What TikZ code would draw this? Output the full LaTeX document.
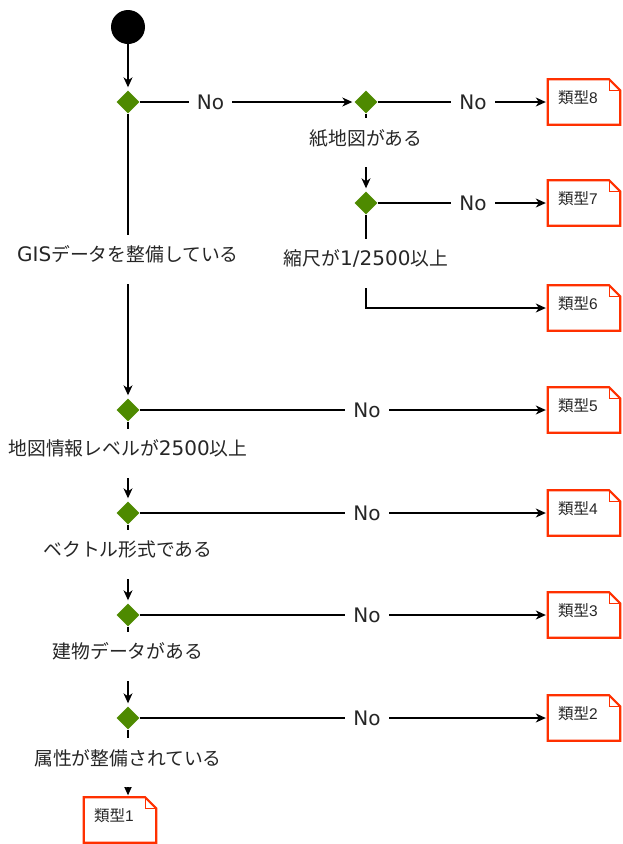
\documentclass[tikz,border=0pt]{standalone}
\usepackage{fontspec}
\setmainfont{Liberation Sans}
\newfontfamily\jp{Noto Sans CJK JP}
\newfontfamily\lat{DejaVu Sans}
\newcommand\J[1]{{\fontsize{18.8}{22}\selectfont\jp #1}}
\usetikzlibrary{shapes.geometric,arrows.meta}
\definecolor{dgreen}{RGB}{78,138,0}
\definecolor{nred}{RGB}{255,48,0}
\begin{document}
\begin{tikzpicture}[x=1pt,y=-1pt,
  conn/.style={line width=1.2pt, draw=black},
  arr/.style={conn, -{Stealth[length=10pt,width=9pt,inset=3pt]}, shorten >=2pt},
  varr/.style={arr, shorten >=3pt},
  dec/.style={diamond, aspect=1, fill=dgreen, minimum size=23pt, inner sep=0pt},
  startnode/.style={circle, fill=black, minimum size=34pt, inner sep=0pt},
  nolbl/.style={fill=white, inner xsep=8pt, inner ysep=2pt, font=\fontsize{20}{22}\selectfont\lat, text=black!85},
  vlbl/.style={fill=white, inner xsep=3pt, inner ysep=12pt, text height=15pt, text depth=10pt, font=\fontsize{20}{22}\selectfont\lat, text=black!85},
  note/.style={inner xsep=10pt, inner ysep=0pt, text width=52pt, text height=23.5pt, text depth=21.5pt, align=left, font=\fontsize{15.5}{18}\selectfont, text=black!85},
  noteline/.style={draw=nred, line width=2.2pt, line join=miter},
  foldline/.style={draw=nred, line width=1.4pt}
]
\useasboundingbox (0,0) rectangle (623,844);

% start
\node[startnode] (start) at (128,27) {};

% decisions
\node[dec] (d1) at (128,102) {};
\node[dec] (d2) at (366,102) {};
\node[dec] (d3) at (366,203) {};
\node[dec] (d4) at (128,410) {};
\node[dec] (d5) at (128,513) {};
\node[dec] (d6) at (128,615) {};
\node[dec] (d7) at (128,718) {};

% result notes
\node[note] (b8) at (584,102) {{\jp 類型}8};
\node[note] (b7) at (584,203) {{\jp 類型}7};
\node[note] (b6) at (584,308) {{\jp 類型}6};
\node[note] (b5) at (584,410) {{\jp 類型}5};
\node[note] (b4) at (584,513) {{\jp 類型}4};
\node[note] (b3) at (584,615) {{\jp 類型}3};
\node[note] (b2) at (584,718) {{\jp 類型}2};
\node[note] (b1) at (120,820) {{\jp 類型}1};

\foreach \i in {1,...,8}{
  \draw[noteline] (b\i.south west) -- (b\i.north west) -- ([xshift=-11pt]b\i.north east)
     -- ([yshift=-11pt]b\i.north east) -- (b\i.south east) -- cycle;
  \draw[foldline] ([xshift=-11pt]b\i.north east) |- ([yshift=-11pt]b\i.north east);
}

% connectors
\draw[varr] (start) -- (d1);
\draw[arr] (d1) -- node[nolbl,pos=0.33]{No} (d2);
\draw[arr] (d2) -- node[nolbl,pos=0.56]{No} (b8);
\draw[varr] (d2) -- node[vlbl,pos=0.373]{\J{紙地図がある}} (d3);
\draw[arr] (d3) -- node[nolbl,pos=0.56]{No} (b7);
\draw[arr] (d3) |- node[vlbl,pos=0.26]{\J{縮尺が}1/2500\J{以上}} (b6);
\draw[varr] (d1) -- node[vlbl,pos=0.512]{GIS\J{データを整備している}} (d4);
\draw[arr] (d4) -- node[nolbl,pos=0.557]{No} (b5);
\draw[varr] (d4) -- node[vlbl,pos=0.395]{\J{地図情報レベルが}2500\J{以上}} (d5);
\draw[arr] (d5) -- node[nolbl,pos=0.557]{No} (b4);
\draw[varr] (d5) -- node[vlbl,pos=0.375]{\J{ベクトル形式である}} (d6);
\draw[arr] (d6) -- node[nolbl,pos=0.557]{No} (b3);
\draw[varr] (d6) -- node[vlbl,pos=0.37]{\J{建物データがある}} (d7);
\draw[arr] (d7) -- node[nolbl,pos=0.557]{No} (b2);
\draw[arr] (d7) -- node[vlbl,pos=0.49]{\J{属性が整備されている}} (d7 |- b1.north);
\end{tikzpicture}
\end{document}
